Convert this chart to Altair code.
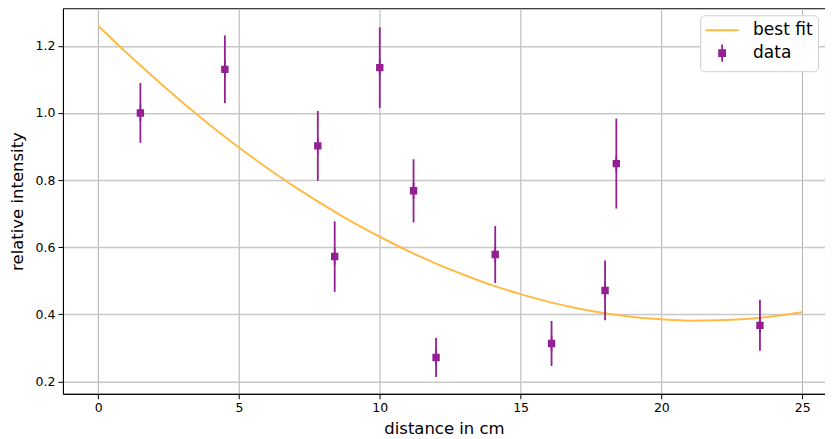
import altair as alt
import pandas as pd

# measured data points
dist = [1.5, 4.5, 7.8, 8.4, 10.0, 11.2, 12.0, 14.1, 16.1, 18.0, 18.4, 23.5]
intensity = [1.00, 1.13, 0.902, 0.572, 1.135, 0.768, 0.271, 0.578, 0.313, 0.471, 0.849, 0.367]
err = [0.089, 0.101, 0.104, 0.105, 0.12, 0.094, 0.058, 0.085, 0.067, 0.089, 0.134, 0.076]

# best-fit curve
fit_x = list(range(0, 26))
fit_y = [1.260, 1.180, 1.104, 1.031, 0.962, 0.897, 0.836, 0.779, 0.726, 0.676,
         0.631, 0.589, 0.551, 0.517, 0.486, 0.460, 0.437, 0.418, 0.403, 0.392,
         0.385, 0.381, 0.382, 0.386, 0.394, 0.406]

series_names = ["best fit", "data"]
ORANGE = "#ffbb45"
PURPLE = "#931f93"

pts = pd.DataFrame({"x": dist, "y": intensity, "e": err, "series": "data"})
fit = pd.DataFrame({"x": fit_x, "y": fit_y})

FONT = "DejaVu Sans"
xscale = alt.Scale(domain=[-1.25, 25.81], nice=False, zero=False)
yscale = alt.Scale(domain=[0.163, 1.312], nice=False, zero=False)

xaxis = alt.Axis(title="distance in cm", values=[0, 5, 10, 15, 20, 25], format="d",
                 grid=True, gridColor="#b0b0b0", gridWidth=1, titlePadding=6)
yaxis = alt.Axis(title="relative intensity", values=[0.2, 0.4, 0.6, 0.8, 1.0, 1.2], format=".1f",
                 grid=True, gridColor="#c8c8c8", gridWidth=1.5, titlePadding=10)

line = alt.Chart(fit).mark_line(color=ORANGE, strokeWidth=2, interpolate="monotone").encode(
    x=alt.X("x:Q", scale=xscale, axis=xaxis),
    y=alt.Y("y:Q", scale=yscale, axis=yaxis),
)

bars = alt.Chart(pts).transform_calculate(
    lo="datum.y - datum.e", hi="datum.y + datum.e"
).mark_rule(color=PURPLE, strokeWidth=1.8).encode(
    x=alt.X("x:Q", scale=xscale),
    y=alt.Y("lo:Q", scale=yscale),
    y2="hi:Q",
)

legend = alt.Legend(title=None, orient="top-right", fillColor="white", strokeColor="#d0d0d0",
                    cornerRadius=4, padding=5, offset=7, labelFontSize=17, labelFont=FONT,
                    labelColor="black", symbolSize=300, symbolStrokeWidth=2,
                    symbolOffset=7, labelOffset=21, rowPadding=2)

shape_paths = ["M-1.9,0H1.9",
               "M-0.45,-0.45H0.45V0.45H-0.45Z M-0.1,-1H0.1V1H-0.1Z"]

points = alt.Chart(pts).mark_point(filled=True, size=270, opacity=1).encode(
    x=alt.X("x:Q", scale=xscale),
    y=alt.Y("y:Q", scale=yscale),
    fill=alt.Fill("series:N", scale=alt.Scale(domain=series_names, range=[ORANGE, PURPLE]), legend=legend),
    stroke=alt.Stroke("series:N", scale=alt.Scale(domain=series_names, range=[ORANGE, "transparent"]), legend=legend),
    shape=alt.Shape("series:N", scale=alt.Scale(domain=series_names, range=shape_paths), legend=legend),
)

chart = alt.layer(line, bars, points).properties(
    width=763, height=386, padding={"left": 1, "top": 0, "right": 0, "bottom": 0}
).configure_view(
    stroke="black", strokeWidth=1
).configure_axis(
    labelFont=FONT, titleFont=FONT, labelFontSize=12.5, titleFontSize=16.5,
    labelColor="black", titleColor="black", titleFontWeight="normal",
    domainColor="black", tickColor="black", tickSize=5, labelPadding=3,
)

chart.save("out.html", embed_options={"renderer": "svg", "actions": False})
